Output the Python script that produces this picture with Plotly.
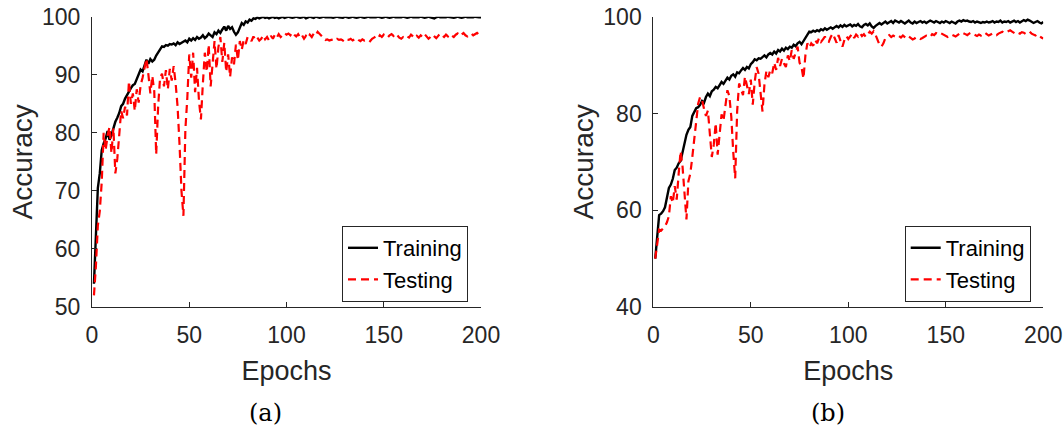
import plotly.graph_objects as go

epochs = list(range(1, 201))

train_a = [
    54.0, 63.5, 70.5, 73.0, 77.0, 78.2, 79.0, 80.3, 78.8, 79.6,
    80.8, 81.9, 82.6, 83.4, 84.6, 85.0, 85.9, 86.4, 87.1, 87.7,
    88.2, 88.4, 89.3, 89.9, 90.9, 90.6, 91.8, 92.6, 91.9, 92.7,
    92.3, 92.6, 93.3, 93.9, 94.5, 94.9, 94.8, 95.1, 95.0, 95.3,
    95.2, 95.4, 95.1, 95.6, 95.3, 95.5, 95.7, 95.9, 95.6, 96.2,
    95.9, 96.3, 96.0, 96.5, 96.2, 96.4, 96.8, 96.3, 96.6, 97.1,
    96.8, 96.5, 97.3, 97.0, 97.6, 97.2, 97.8, 98.3, 97.6, 98.4,
    97.9, 98.2, 97.4, 96.9, 97.3, 98.1, 98.9, 98.6, 99.2, 99.0,
    99.5, 99.3, 99.7, 99.6, 99.9, 99.7, 99.8, 100.0, 99.8, 99.9,
    99.7, 99.9, 100.0, 99.8, 99.9, 99.7, 99.9, 100.0, 99.8, 99.9,
    100.0, 99.9, 99.8, 99.9, 100.0, 99.9, 99.8, 99.9, 100.0, 99.7,
    99.9, 100.0, 99.9, 99.8, 100.0, 99.9, 99.8, 99.9, 100.0, 99.9,
    99.9, 100.0, 99.9, 99.8, 99.9, 100.0, 99.9, 99.9, 99.8, 100.0,
    99.9, 99.8, 99.9, 100.0, 99.9, 99.8, 99.9, 100.0, 99.9, 99.8,
    99.9, 100.0, 99.9, 99.9, 99.8, 99.9, 100.0, 99.9, 99.8, 99.9,
    100.0, 99.9, 99.8, 99.9, 100.0, 99.9, 99.9, 99.8, 99.9, 100.0,
    99.9, 99.8, 99.9, 100.0, 99.9, 99.9, 99.8, 99.9, 100.0, 99.9,
    99.8, 99.9, 100.0, 99.9, 99.8, 99.7, 99.9, 100.0, 99.9, 99.9,
    99.8, 99.9, 100.0, 99.9, 99.9, 99.8, 99.9, 100.0, 99.9, 99.8,
    99.9, 100.0, 99.9, 99.9, 99.8, 99.9, 100.0, 99.9, 99.9, 99.9,
]

test_a = [
    52.0, 57.0, 64.0, 66.5, 71.5, 80.0, 77.0, 79.5, 81.0, 76.5,
    80.8, 73.0, 75.5, 80.5, 83.8, 82.5, 84.5, 83.0, 88.9, 85.0,
    86.8, 83.8, 87.5, 85.2, 88.2, 89.5, 91.4, 92.8, 90.0, 86.8,
    89.8, 87.2, 76.3, 84.5, 89.5, 90.2, 88.0, 90.8, 87.5, 91.0,
    89.0, 91.5, 88.5, 84.5, 78.0, 70.0, 65.7, 80.5, 86.0, 93.5,
    89.5, 93.8, 87.0, 91.2, 85.5, 82.3, 88.5, 93.8, 90.5, 95.2,
    88.0, 92.5, 95.8, 91.0, 94.8, 96.5, 92.2, 95.5, 90.5, 93.5,
    89.6, 93.0, 91.8, 95.2, 92.5, 95.8, 94.3, 96.0, 95.3, 96.5,
    96.3, 95.8, 96.6, 96.0, 96.4, 95.9, 96.2, 96.8, 96.1, 96.5,
    95.9, 96.7, 96.2, 96.9, 96.4, 97.0, 96.5, 96.8, 97.2, 96.9,
    97.1, 96.8, 97.3, 96.9, 96.6, 97.0, 96.4, 96.8, 96.2, 96.7,
    96.3, 96.9, 96.5, 97.1, 96.8, 97.4, 97.0, 96.6, 96.2, 96.0,
    96.1, 95.9, 96.0, 96.1, 95.9, 96.2, 96.0, 96.1, 95.9, 96.3,
    96.1, 96.0, 96.2, 95.9, 96.1, 96.3, 96.0, 95.8, 96.1, 95.9,
    96.0, 96.1, 95.8, 96.2, 96.4, 96.6, 96.3, 96.8, 96.5, 96.9,
    96.6, 96.4, 96.8, 97.0, 96.7, 97.1, 96.8, 96.4, 96.2, 96.5,
    96.3, 96.6, 96.4, 96.9, 96.6, 96.3, 96.7, 96.4, 96.8, 96.5,
    97.0, 96.6, 96.2, 96.5, 96.9, 96.6, 96.3, 96.7, 97.1, 96.8,
    96.5, 96.9, 96.6, 97.0, 96.8, 96.5, 96.9, 97.1, 96.7, 96.9,
    97.2, 96.8, 96.6, 96.9, 97.1, 96.8, 97.0, 97.2, 96.9, 97.1,
]

train_b = [
    50.0, 55.5, 59.0, 59.3, 59.8, 60.6, 62.5, 64.6, 65.3, 66.5,
    68.3, 68.8, 69.7, 70.2, 72.0, 73.8, 75.6, 76.6, 77.2, 79.5,
    80.5, 81.1, 81.3, 81.8, 82.6, 82.2, 83.4, 84.1, 83.6, 84.6,
    84.9, 85.5, 85.2, 86.0, 86.5, 86.1, 86.9, 87.4, 87.0, 87.8,
    88.1, 87.6, 88.5, 88.3, 88.9, 89.4, 89.0, 89.6, 89.3, 90.2,
    90.6, 91.2, 91.0, 91.4, 91.3, 91.7, 92.0, 91.6, 92.2, 92.5,
    92.2, 92.8, 92.4, 93.1, 92.8, 93.4, 93.0, 93.6, 93.3, 93.8,
    93.6, 94.2, 93.9, 94.5, 94.8, 94.3, 95.0, 95.6, 96.4, 96.9,
    96.8, 97.1, 96.9, 97.2, 97.0, 97.4, 97.2, 97.6, 97.3, 97.6,
    97.8, 97.5, 97.9, 98.1, 97.8, 98.2, 97.9, 98.3, 98.0, 98.2,
    98.4, 98.0, 98.3, 98.1, 98.5, 98.0, 97.8, 98.3, 98.5, 98.2,
    98.6, 98.0, 97.7, 98.1, 98.4, 98.7, 98.4, 98.8, 99.0, 98.6,
    98.9, 99.1, 98.7, 99.2, 99.0, 98.8, 99.1, 98.9, 98.6, 98.9,
    99.2, 98.8, 98.6, 99.0, 98.7, 98.9, 99.1, 98.8, 99.0, 98.7,
    98.9, 99.2, 99.0, 98.8, 99.1, 98.9, 98.7, 99.0, 98.8, 99.1,
    98.9, 98.7, 99.0, 98.8, 98.6, 99.0, 99.2, 99.0, 99.3, 99.1,
    99.2, 99.0, 98.9, 99.1, 98.8, 99.0, 98.9, 98.7, 98.9, 98.8,
    99.0, 98.8, 98.9, 99.1, 98.8, 99.0, 98.9, 99.2, 98.8, 99.0,
    98.9, 99.1, 98.8, 99.0, 99.2, 98.9, 99.1, 98.8, 99.0, 99.3,
    99.1, 99.4, 99.2, 99.0, 98.7, 98.9, 99.1, 98.8, 98.6, 98.9,
]

test_b = [
    50.0, 53.5, 56.0, 55.8, 56.2, 56.7, 57.5, 58.8, 62.9, 61.5,
    65.0, 62.2, 67.5, 72.2, 69.0, 63.5, 58.1, 66.0, 67.6, 71.0,
    75.2, 78.5, 82.0, 83.4, 82.8, 81.0, 79.5, 80.6, 75.7, 71.0,
    73.5, 78.0, 71.5, 76.5, 79.8, 78.5, 82.0, 84.8, 83.6, 79.3,
    72.0, 66.6, 80.5, 86.2, 85.0, 83.8, 87.6, 86.0, 84.0, 87.0,
    81.8, 86.5, 89.6, 88.2, 83.9, 80.4, 86.0, 88.8, 87.5, 89.0,
    88.3, 90.5, 89.0, 91.5, 89.8, 91.3, 90.3, 89.6, 92.0, 90.8,
    93.1, 91.3, 92.5, 93.8, 90.5, 89.6, 87.2, 92.0, 94.5, 93.6,
    94.5, 94.0, 95.2, 94.5, 95.6, 94.8, 95.3, 95.9, 95.0, 94.8,
    95.8, 96.5, 95.6, 94.6, 96.2, 95.0, 93.8, 95.2, 96.0, 95.4,
    96.1, 96.5, 95.6, 96.3, 95.9, 96.6, 96.0, 96.4, 95.8, 96.3,
    96.9, 96.5, 97.0, 96.2, 95.0, 94.2, 93.8, 94.5, 95.6, 96.0,
    96.2, 95.8, 96.1, 95.9, 96.2, 96.0, 95.7, 96.1, 95.8, 95.5,
    95.9, 95.6, 95.3, 95.5, 95.8, 95.7, 95.4, 95.6, 95.9, 96.1,
    96.0, 95.8, 96.4, 96.2, 96.6, 96.4, 96.7, 96.5, 96.2, 96.0,
    95.8, 96.0, 96.3, 96.1, 95.9, 96.2, 96.5, 96.3, 96.6, 96.4,
    96.2, 96.5, 96.7, 96.4, 96.2, 96.0, 96.3, 96.1, 96.5, 96.7,
    96.4, 96.1, 96.3, 96.6, 96.4, 96.2, 96.5, 96.7, 96.9, 96.6,
    96.8, 97.0, 97.2, 96.9, 96.6, 96.4, 96.7, 96.5, 96.8, 96.7,
    96.4, 96.6, 96.9, 96.5, 96.3, 96.1, 96.4, 96.0, 95.7, 95.5,
]

x_ticks = [0, 50, 100, 150, 200]
y_ticks_a = [50, 60, 70, 80, 90, 100]
y_ticks_b = [40, 60, 80, 100]
panel_labels = ["(a)", "(b)"]

AX = "#262626"
SANS = "Liberation Sans, Arial, sans-serif"
TICK_FONT = dict(family=SANS, size=23, color=AX)
XTITLE_FONT = dict(family=SANS, size=27, color=AX)
YTITLE_FONT = dict(family=SANS, size=28, color=AX)

fig = go.Figure()

black = dict(color="black", width=2.4)
red = dict(color="#ff0000", width=2.2, dash="8px,5px")

fig.add_trace(go.Scatter(x=epochs, y=train_a, mode="lines", line=black, name="Training",
                         xaxis="x", yaxis="y", legend="legend"))
fig.add_trace(go.Scatter(x=epochs, y=test_a, mode="lines", line=red, name="Testing",
                         xaxis="x", yaxis="y", legend="legend"))
fig.add_trace(go.Scatter(x=epochs, y=train_b, mode="lines", line=black, name="Training",
                         xaxis="x2", yaxis="y2", legend="legend2"))
fig.add_trace(go.Scatter(x=epochs, y=test_b, mode="lines", line=red, name="Testing",
                         xaxis="x2", yaxis="y2", legend="legend2"))

W, H = 1064, 427
ydom = [1 - 307 / H, 1 - 16.7 / H]

def xax(dom, anchor):
    return dict(domain=dom, anchor=anchor, range=[0, 200], tickvals=x_ticks,
                showline=True, linecolor=AX, linewidth=1, ticks="inside", ticklen=5,
                tickcolor=AX, showgrid=False, zeroline=False, tickfont=TICK_FONT,
                ticklabelstandoff=7, automargin=False,
                title=dict(text="Epochs", font=XTITLE_FONT, standoff=14))

def yax(dom, anchor, rng, tv):
    return dict(domain=dom, anchor=anchor, range=rng, tickvals=tv,
                showline=True, linecolor=AX, linewidth=1, ticks="inside", ticklen=5,
                tickcolor=AX, showgrid=False, zeroline=False, tickfont=TICK_FONT,
                ticklabelstandoff=6, automargin=False,
                title=dict(text="Accuracy", font=YTITLE_FONT, standoff=1))

leg_common = dict(bgcolor="white", bordercolor=AX, borderwidth=1,
                  font=dict(family=SANS, size=22, color="black"),
                  xanchor="right", yanchor="bottom", tracegroupgap=0, itemwidth=30)

fig.update_layout(
    width=W, height=H, autosize=False,
    margin=dict(l=0, r=0, t=0, b=0, autoexpand=False),
    paper_bgcolor="white", plot_bgcolor="white",
    xaxis=xax([92 / W, 481 / W], "y"),
    yaxis=yax(ydom, "x", [50, 100], y_ticks_a),
    xaxis2=xax([653.3 / W, 1043.3 / W], "y2"),
    yaxis2=yax(ydom, "x2", [40, 100], y_ticks_b),
    legend=dict(x=468 / W, y=1 - 302 / H, **leg_common),
    legend2=dict(x=1030.7 / W, y=1 - 302 / H, **leg_common),
    annotations=[
        dict(text=panel_labels[0], x=265 / W, y=1 - 413 / H, xref="paper", yref="paper",
             showarrow=False, xanchor="center", yanchor="middle",
             font=dict(family="DejaVu Serif, serif", size=24, color="black")),
        dict(text=panel_labels[1], x=828 / W, y=1 - 413 / H, xref="paper", yref="paper",
             showarrow=False, xanchor="center", yanchor="middle",
             font=dict(family="DejaVu Serif, serif", size=24, color="black")),
    ],
)

fig.write_html("out.html", config={"displayModeBar": False},
               post_script="document.body.style.margin='0px';document.body.style.overflow='hidden';")
